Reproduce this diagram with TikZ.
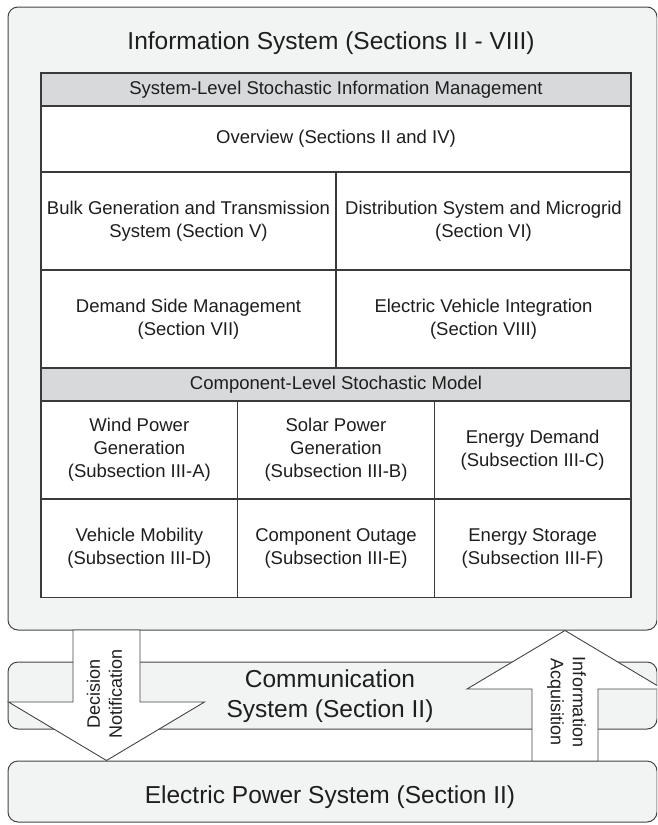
\documentclass[tikz,border=0pt]{standalone}
\usepackage{fontspec}
\setmainfont{Liberation Sans}
\definecolor{bgc}{HTML}{F2F3F3}
\definecolor{headc}{HTML}{D8D9DA}
\definecolor{linec}{HTML}{454545}
\definecolor{tabc}{HTML}{3A3A3A}
\definecolor{txtc}{HTML}{1E1E1E}
\begin{document}
\begin{tikzpicture}[x=1pt,y=-1pt,
  frame/.style={draw=linec, fill=bgc, rounded corners=10pt, line width=1pt, inner sep=0pt},
  cell/.style={draw=tabc, fill=white, line width=1.1pt, inner sep=0pt, align=center,
    font=\fontsize{18.5}{23}\selectfont, text=txtc},
  headcell/.style={cell, fill=headc},
  bigtxt/.style={font=\fontsize{24.5}{30}\selectfont, text=txtc, align=center, inner sep=0pt},
  arrtxt/.style={font=\fontsize{18}{22}\selectfont, text=txtc, align=center, inner sep=0pt},
  blockarrow/.style={draw=linec, fill=white, line width=0.9pt, line join=miter}]
\useasboundingbox (0,0) rectangle (657,825);
\clip (0,0) rectangle (657,825);
% information system frame
\node[frame, minimum width=649pt, minimum height=623pt] (info) at (332.5,318.5) {};
\node[bigtxt] (infot) at (331,43) {Information System (Sections II - VIII)};
% system level table
\node[headcell, minimum width=590pt, minimum height=33pt] (h1) at (336,89.5) {System-Level Stochastic Information Management};
\node[cell, minimum width=590pt, minimum height=66pt] (ov) at (336,139) {Overview (Sections II and IV)};
\node[cell, minimum width=295pt, minimum height=98pt] (bulk) at (188.5,221) {Bulk Generation and Transmission\\System (Section V)};
\node[cell, minimum width=295pt, minimum height=98pt] (dist) at (483.5,221) {Distribution System and Microgrid\\(Section VI)};
\node[cell, minimum width=295pt, minimum height=98pt] (dsm) at (188.5,319) {Demand Side Management\\(Section VII)};
\node[cell, minimum width=295pt, minimum height=98pt] (ev) at (483.5,319) {Electric Vehicle Integration\\(Section VIII)};
% component level table
\node[headcell, minimum width=590pt, minimum height=33pt] (h2) at (336,384.5) {Component-Level Stochastic Model};
\node[cell, minimum width=196.67pt, minimum height=98pt] (wind) at (139.33,450) {Wind Power\\Generation\\(Subsection III-A)};
\node[cell, minimum width=196.67pt, minimum height=98pt] (solar) at (336,450) {Solar Power\\Generation\\(Subsection III-B)};
\node[cell, minimum width=196.67pt, minimum height=98pt] (dem) at (532.67,450) {Energy Demand\\(Subsection III-C)};
\node[cell, minimum width=196.67pt, minimum height=98pt] (veh) at (139.33,548.5) {Vehicle Mobility\\(Subsection III-D)};
\node[cell, minimum width=196.67pt, minimum height=98pt] (out) at (336,548.5) {Component Outage\\(Subsection III-E)};
\node[cell, minimum width=196.67pt, minimum height=98pt] (stor) at (532.67,548.5) {Energy Storage\\(Subsection III-F)};
% communication system
\node[frame, minimum width=649pt, minimum height=67pt] (comm) at (332.5,695.5) {};
\node[bigtxt] (commt) at (330,696) {Communication\\System (Section II)};
% electric power system
\node[frame, minimum width=649pt, minimum height=61pt] (eps) at (332.5,791.5) {};
\node[bigtxt] (epst) at (330,797) {Electric Power System (Section II)};
% decision notification arrow
\coordinate (dtip) at (eps.north -| 106.5,0);
\draw[blockarrow] (73,630) -- (140,630) -- (140,702) -- (204.5,702) -- (dtip) -- (8.5,702) -- (73,702) -- cycle;
\node[arrtxt, rotate=90] (dnt) at (104.5,694) {Decision\\Notification};
% information acquisition arrow
\coordinate (utip) at (info.south -| 565,0);
\draw[blockarrow] (532,761) -- (598,761) -- (598,689) -- (663,689) -- (utip) -- (467,689) -- (532,689) -- cycle;
\node[arrtxt, rotate=-90] (upt) at (566.5,702) {Information\\Acquisition};
\end{tikzpicture}
\end{document}
